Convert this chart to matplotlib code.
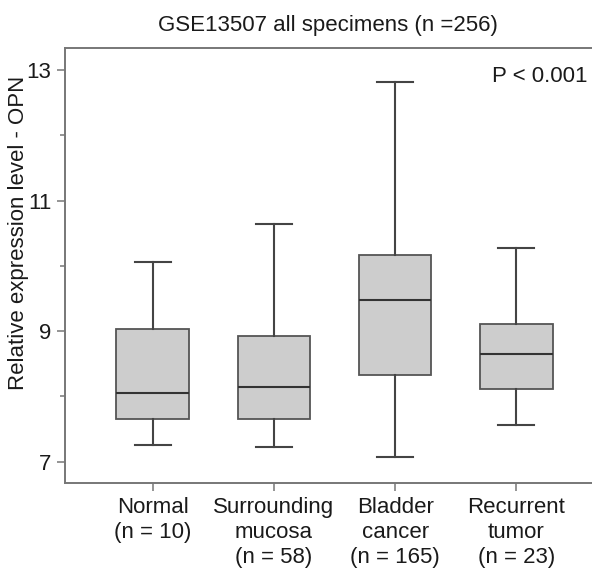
import matplotlib
matplotlib.use("Agg")
import matplotlib.pyplot as plt

plt.rcParams['font.family'] = ['Liberation Sans', 'DejaVu Sans']

categories = ["Normal\n(n = 10)", "Surrounding\nmucosa\n(n = 58)",
              "Bladder\ncancer\n(n = 165)", "Recurrent\ntumor\n(n = 23)"]
whisker_low = [7.25, 7.22, 7.07, 7.56]
q1 = [7.66, 7.66, 8.33, 8.11]
median = [8.05, 8.15, 9.48, 8.65]
q3 = [9.03, 8.92, 10.16, 9.11]
whisker_high = [10.06, 10.64, 12.82, 10.28]
yticks = [7, 9, 11, 13]
title = "GSE13507 all specimens (n =256)"
ylabel = "Relative expression level - OPN"
ptext = "P < 0.001"

stats = []
for i, lab in enumerate(categories):
    stats.append(dict(label=lab, whislo=whisker_low[i], q1=q1[i], med=median[i],
                      q3=q3[i], whishi=whisker_high[i], fliers=[]))

W, H = 592, 569
fs = 16
fig = plt.figure(figsize=(W / 100, H / 100), dpi=100)
left, right, top, bottom = 65.3, 600, 47.5, 483
ax = fig.add_axes([left / W, 1 - bottom / H, (right - left) / W, (bottom - top) / H])

line_c = "#555555"
bp = ax.bxp(stats, positions=[1, 2, 3, 4], widths=0.6, patch_artist=True,
            showfliers=False,
            boxprops=dict(facecolor="#cdcdcd", edgecolor=line_c, linewidth=1.3),
            medianprops=dict(color="#333333", linewidth=1.5),
            whiskerprops=dict(color="#444444", linewidth=1.5),
            capprops=dict(color="#444444", linewidth=1.5),
            capwidths=0.3)

ax.set_xlim(0.279, 1 + (right - 152.7) / 121.2)
ax.set_ylim(6.674, 13.346)
ax.set_yticks(yticks)
ax.set_yticks([8, 10, 12], minor=True)
ax.set_xticks([1, 2, 3, 4])
ax.set_xticklabels(categories, fontsize=fs, linespacing=1.25, color="#1a1a1a")

for s in ["top", "left", "bottom"]:
    ax.spines[s].set_color("#777777")
    ax.spines[s].set_linewidth(1.4)
ax.spines["right"].set_visible(False)

ax.tick_params(axis="y", which="major", length=6, width=1.1, color="#777777",
               labelsize=fs, labelcolor="#1a1a1a", pad=4)
ax.tick_params(axis="y", which="minor", length=3.5, width=1.1, color="#777777")
ax.tick_params(axis="x", length=6, width=1.1, color="#777777", pad=4)

ax.set_ylabel(ylabel, fontsize=fs, color="#1a1a1a")
ax.yaxis.set_label_coords(-0.068, 0.574)

fig.text(328 / W, 1 - 25 / H, title, ha="center", va="center", fontsize=fs,
         color="#1a1a1a")
fig.text(588 / W, 1 - 76 / H, ptext, ha="right", va="center", fontsize=fs,
         color="#1a1a1a")

fig.savefig("out.png", dpi=100)
